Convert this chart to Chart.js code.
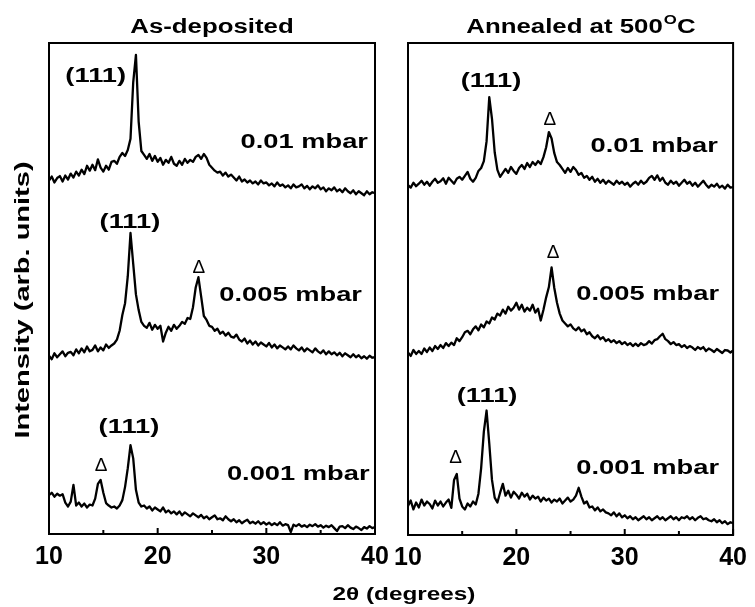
<!DOCTYPE html>
<html>
<head>
<meta charset="utf-8">
<script src="https://cdn.jsdelivr.net/npm/chart.js@4.4.1/dist/chart.umd.min.js"></script>
<style>
    html, body { margin: 0; padding: 0; background: #fff; }
    .wrap { position: relative; width: 755px; height: 607px; }
    .wrap canvas { position: absolute; left: 0; top: 0; }
</style>
</head>
<body>
<div class="wrap">
    <canvas id="leftChart" width="755" height="607"></canvas>
    <canvas id="rightChart" width="755" height="607"></canvas>
</div>
<script>
// 2theta sampling grid (degrees)
const angles = Array.from({ length: 121 }, (_, i) => 10 + i * 0.25);

const majorTicks = [10, 20, 30, 40];
const minorTicks = [15, 25, 35];

// As-deposited (arb. units, 0-100 per panel)
const asDep01 = [
    72.0, 72.8, 71.6, 72.5,  72.9, 71.8, 73.0, 72.2,  73.4, 72.6, 73.8, 73.0,
    74.2, 73.3, 75.0, 74.0,  75.2, 74.1, 76.3, 74.6,  73.8, 75.0, 74.2, 75.8,
    76.0, 75.4, 76.8, 77.6,  77.0, 78.2, 80.5, 92.0,  97.6, 84.0, 78.0, 77.2,
    76.4, 77.4, 76.0, 77.0,  75.8, 76.6, 75.2, 76.2,  75.6, 76.8, 75.4, 75.0,
    76.0, 75.2, 76.4, 75.6,  76.2, 75.8, 76.8, 77.2,  76.4, 77.4, 76.6, 75.2,
    74.6, 74.0, 73.6, 73.8,  73.0, 73.6, 72.8, 73.2,  72.6, 72.0, 72.8, 71.8,
    72.2, 71.6, 72.0, 71.4,  71.8, 71.2, 72.0, 71.4,  71.6, 71.0, 71.4, 70.8,
    71.6, 70.9, 71.2, 70.6,  71.0, 70.4, 71.2, 70.6,  70.8, 71.2, 70.4, 70.9,
    70.2, 70.8, 70.4, 71.0,  70.2, 70.6, 69.8, 70.4,  70.0, 70.6, 69.8, 70.2,
    69.6, 70.4, 69.8, 69.4,  70.0, 69.2, 69.8, 69.4,  69.0, 69.8, 69.2, 69.6,
    69.4
];
const asDep005 = [
    36.3, 35.6, 36.8, 36.0,  36.6, 37.2, 36.2, 36.9,  37.1, 36.4, 37.6, 36.8,
    37.8, 37.0, 38.2, 37.2,  37.5, 38.4, 37.2, 38.0,  37.4, 38.6, 37.9, 38.4,
    38.8, 39.6, 41.4, 44.6,  47.0, 52.5, 61.3, 55.0,  48.8, 45.6, 43.2, 42.4,
    42.0, 43.0, 41.6, 42.6,  41.8, 42.4, 39.2, 41.0,  42.2, 41.4, 42.6, 41.8,
    42.4, 43.2, 42.8, 44.0,  43.8, 46.2, 50.2, 52.3,  48.4, 44.4, 43.6, 42.4,
    42.2, 41.4, 41.8, 40.8,  41.2, 40.4, 41.0, 40.2,  40.0, 40.6, 39.6, 39.2,
    39.8, 38.8, 39.4, 38.6,  39.2, 38.4, 39.0, 38.6,  38.2, 38.9, 38.0, 38.6,
    37.8, 38.4, 38.0, 37.6,  38.2, 37.6, 38.4, 37.8,  37.4, 38.0, 37.2, 37.8,
    37.4, 37.0, 37.8, 37.2,  36.8, 37.4, 36.6, 37.2,  36.6, 37.0, 36.4, 36.9,
    36.2, 36.8, 36.4, 36.0,  36.6, 36.0, 36.4, 35.8,  36.2, 35.7, 36.3, 35.9,
    36.0
];
const asDep001 = [
    7.9, 8.4, 7.6, 8.2,  7.8, 8.1, 6.4, 5.6,  6.6, 10.0, 5.8, 6.4,
    5.6, 6.2, 5.4, 6.0,  5.8, 7.2, 10.2, 11.0,  8.4, 6.3, 5.8, 5.4,
    5.6, 5.2, 5.8, 6.9,  9.6, 13.4, 18.1, 15.4,  9.0, 6.4, 5.6, 5.8,
    5.2, 5.6, 4.8, 5.4,  5.0, 4.6, 5.4, 4.4,  4.8, 4.2, 4.6, 4.0,
    4.6, 3.8, 4.4, 4.0,  3.6, 4.2, 3.8, 3.4,  3.9, 3.2, 3.6, 3.0,
    3.4, 3.8, 3.0, 3.2,  2.8, 3.6, 3.0, 2.6,  3.0, 2.4, 2.8, 2.2,
    2.6, 2.9, 2.2, 2.5,  2.1, 2.6, 2.0, 2.4,  1.9, 2.3, 1.8, 2.2,
    1.8, 2.4, 1.7, 2.0,  1.8, 0.4, 1.9, 1.6,  2.0, 1.5, 1.8, 1.4,
    1.9, 1.6, 2.0, 1.5,  1.8, 1.3, 1.7, 1.4,  1.8, 1.2, 0.6, 1.5,
    1.6, 1.2, 1.8, 1.3,  1.0, 1.5, 1.2, 0.8,  1.4, 1.1, 1.6, 1.2,
    1.4
];

// Annealed at 500 C
const ann01 = [
    71.1, 70.6, 71.6, 70.9,  71.4, 72.0, 71.2, 71.8,  71.0, 71.8, 72.4, 71.6,
    71.9, 72.5, 71.4, 72.6,  72.0, 71.4, 72.4, 72.8,  72.2, 73.0, 73.8, 72.4,
    71.8, 72.6, 74.0, 74.6,  76.0, 80.0, 89.0, 84.6,  77.8, 74.2, 72.8, 73.6,
    74.4, 73.6, 74.8, 74.0,  73.4, 74.6, 75.2, 74.4,  75.6, 74.8, 75.8, 75.2,
    76.0, 75.4, 76.8, 78.8,  81.9, 80.6, 77.6, 75.8,  75.2, 74.4, 73.6, 74.6,
    73.8, 74.8, 74.2, 73.2,  73.6, 72.6, 73.0, 72.2,  72.8, 71.8, 72.4, 71.6,
    72.2, 71.4, 72.0, 71.6,  71.2, 72.0, 71.4, 71.8,  71.2, 71.6, 70.8, 71.4,
    71.8, 71.2, 72.0, 71.4,  71.8, 72.6, 73.0, 72.2,  73.1, 72.0, 72.6, 71.6,
    71.2, 72.0, 71.4, 71.8,  71.0, 71.6, 72.2, 71.4,  71.8, 71.0, 71.6, 70.8,
    71.4, 72.0, 71.2, 70.6,  71.2, 70.8, 71.4, 70.6,  71.0, 70.4, 71.2, 70.6,
    70.7
];
const ann005 = [
    37.1, 36.4, 37.6, 36.8,  37.4, 36.8, 37.9, 37.2,  38.1, 37.4, 38.4, 37.8,
    38.6, 38.0, 39.0, 38.4,  39.1, 38.6, 40.0, 39.4,  40.2, 41.2, 41.5, 40.8,
    41.8, 42.4, 41.6, 42.8,  42.2, 43.4, 43.0, 44.2,  43.8, 45.0, 44.6, 45.8,
    45.0, 46.4, 45.6, 46.2,  47.2, 45.8, 46.8, 45.4,  46.2, 45.6, 46.8, 45.2,
    46.0, 43.6, 45.8, 48.3,  50.4, 54.4, 50.2, 47.2,  45.0, 43.6, 43.0, 42.4,
    42.8, 42.0, 41.6, 42.2,  41.4, 41.8, 40.8, 41.2,  40.4, 40.0, 40.6, 39.8,
    40.2, 39.4, 39.8, 39.2,  39.6, 39.0, 39.4, 38.8,  39.2, 38.6, 39.0, 38.4,
    38.9, 38.4, 39.0, 38.6,  38.8, 39.4, 38.9, 39.6,  39.8, 40.4, 40.9, 39.8,
    39.4, 38.8, 39.2, 38.6,  38.8, 38.2, 38.6, 38.0,  38.4, 38.1, 37.6, 38.2,
    37.8, 38.2, 37.4, 37.9,  37.6, 37.2, 37.8, 37.4,  37.0, 37.6, 37.5, 37.1,
    37.5
];
const ann001 = [
    5.9, 7.0, 5.2, 6.6,  5.6, 7.2, 6.0, 6.8,  6.3, 5.4, 7.0, 6.0,
    6.8, 5.8, 6.6, 7.2,  5.5, 11.2, 12.4, 7.4,  5.8, 5.2, 6.4, 5.8,
    6.8, 6.2, 8.4, 13.6,  21.0, 25.3, 18.6, 11.2,  7.6, 6.6, 8.6, 10.4,
    8.0, 9.0, 7.6, 8.8,  8.2, 7.4, 8.6, 7.8,  8.4, 7.2, 8.0, 7.4,
    7.8, 6.8, 7.6, 7.0,  7.4, 6.6, 7.2, 6.8,  7.4, 6.4, 7.0, 7.6,
    6.8, 7.2, 8.0, 9.6,  7.8, 6.4, 6.8, 5.6,  5.8, 5.0, 5.6, 4.8,
    5.2, 4.6, 4.4, 4.0,  4.6, 3.8, 4.4, 3.6,  4.0, 3.4, 3.8, 3.2,
    3.6, 3.0, 3.4, 3.8,  3.2, 3.6, 3.0, 3.4,  3.8, 3.2, 3.6, 3.0,
    3.4, 3.8, 3.2, 3.6,  3.0, 3.6, 3.4, 3.8,  3.2, 3.6, 3.0, 3.5,
    3.8, 3.2, 3.4, 3.0,  2.8, 3.2, 2.6, 3.0,  2.4, 2.8, 2.2, 2.6,
    2.4
];

// peak labels, anchored in data units (2theta, intensity)
const leftNotes = [
    { text: "(111)", x: 14.3, y: 93.3 },
    { text: "0.01 mbar", x: 39.35, y: 79.7, align: "right" },
    { text: "(111)", x: 17.45, y: 63.5 },
    { text: "\u0394", x: 23.8, y: 54.2, tri: true },
    { text: "0.005 mbar", x: 38.8, y: 48.7, align: "right" },
    { text: "(111)", x: 17.36, y: 21.8 },
    { text: "\u0394", x: 14.8, y: 13.8, tri: true },
    { text: "0.001 mbar", x: 39.5, y: 12.2, align: "right" }
];
const rightNotes = [
    { text: "(111)", x: 17.66, y: 92.3 },
    { text: "\u0394", x: 23.1, y: 84.3, tri: true },
    { text: "0.01 mbar", x: 38.6, y: 79.1, align: "right" },
    { text: "\u0394", x: 23.4, y: 57.3, tri: true },
    { text: "0.005 mbar", x: 38.7, y: 49.0, align: "right" },
    { text: "(111)", x: 17.3, y: 28.3 },
    { text: "\u0394", x: 14.4, y: 15.7, tri: true },
    { text: "0.001 mbar", x: 38.7, y: 13.6, align: "right" }
];

const FONT = '"Liberation Sans", Arial, sans-serif';

// the original lettering is wide, so stretch it horizontally
function wideText(ctx, txt, x, y, size, align, sx, rot, weight) {
    ctx.save();
    ctx.translate(x, y);
    if (rot) ctx.rotate(rot);
    ctx.scale(sx, 1);
    ctx.font = (weight || "bold") + " " + size + "px " + FONT;
    ctx.textAlign = align || "center";
    ctx.textBaseline = "middle";
    ctx.fillStyle = "#000";
    ctx.fillText(txt, 0, 0);
    ctx.restore();
}

function makeFrame(notes, extra) {
    return {
        id: "frame",
        afterDraw(chart) {
            const ctx = chart.ctx;
            const a = chart.chartArea;
            const x = chart.scales.x;
            const y = chart.scales.y;
            ctx.save();
            ctx.strokeStyle = "#000";
            ctx.lineWidth = 2;
            ctx.strokeRect(a.left, a.top, a.right - a.left, a.bottom - a.top);

            ctx.beginPath();
            majorTicks.forEach(v => {
                const px = x.getPixelForValue(v);
                ctx.moveTo(px, a.bottom);
                ctx.lineTo(px, a.bottom - 6);
            });
            minorTicks.forEach(v => {
                const px = x.getPixelForValue(v);
                ctx.moveTo(px, a.bottom);
                ctx.lineTo(px, a.bottom - 4);
            });
            ctx.stroke();

            notes.forEach(n => {
                const px = x.getPixelForValue(n.x);
                const py = y.getPixelForValue(n.y);
                if (n.tri) {
                    wideText(ctx, n.text, px, py, 19, "center", 1.0, 0, "normal");
                } else {
                    wideText(ctx, n.text, px, py, 21, n.align, 1.3);
                }
            });
            if (extra) extra(ctx, a);
            ctx.restore();
        }
    };
}

function lineSet(values) {
    return {
        data: values,
        borderColor: "#000",
        borderWidth: 2.3,
        borderJoinStyle: "round",
        pointRadius: 0,
        tension: 0,
        fill: false
    };
}

function makeOptions(pad) {
    return {
        responsive: false,
        animation: false,
        devicePixelRatio: 1,
        layout: { padding: pad },
        plugins: { legend: { display: false }, tooltip: { enabled: false }, title: { display: false } },
        scales: {
            x: {
                type: "linear",
                min: 10,
                max: 40,
                afterFit: s => { s.height = 30; },
                ticks: {
                    stepSize: 10,
                    color: "#000",
                    padding: 8,
                    font: { family: FONT, size: 25, weight: "bold" }
                },
                grid: { display: false, drawTicks: false },
                border: { display: false }
            },
            y: { display: false, min: 0, max: 100 }
        }
    };
}

new Chart(document.getElementById("leftChart"), {
    type: "line",
    data: { labels: angles, datasets: [lineSet(asDep01), lineSet(asDep005), lineSet(asDep001)] },
    options: makeOptions({ left: 49, right: 380, top: 43, bottom: 43 }),
    plugins: [makeFrame(leftNotes, (ctx, a) => {
        wideText(ctx, "As-deposited", (a.left + a.right) / 2, 27, 20, "center", 1.29);
        wideText(ctx, "2\u03b8 (degrees)", 404, 595, 19, "center", 1.28);
        wideText(ctx, "Intensity (arb. units)", 23, 300, 20, "center", 1.45, -Math.PI / 2);
    })]
});

new Chart(document.getElementById("rightChart"), {
    type: "line",
    data: { labels: angles, datasets: [lineSet(ann01), lineSet(ann005), lineSet(ann001)] },
    options: makeOptions({ left: 408, right: 18, top: 43, bottom: 42 }),
    plugins: [makeFrame(rightNotes, (ctx, a) => {
        // title with superscript degree "O"
        const sx = 1.29;
        ctx.save();
        ctx.font = "bold 20px " + FONT;
        const w1 = ctx.measureText("Annealed at 500").width;
        const w3 = ctx.measureText("C").width;
        ctx.font = "bold 13px " + FONT;
        const w2 = ctx.measureText("O").width + 1;
        ctx.restore();
        const total = (w1 + w2 + w3) * sx;
        const x0 = 581 - total / 2;
        wideText(ctx, "Annealed at 500", x0, 27, 20, "left", sx);
        wideText(ctx, "O", x0 + w1 * sx + 1, 20, 13, "left", sx);
        wideText(ctx, "C", x0 + (w1 + w2) * sx, 27, 20, "left", sx);
    })]
});
</script>
</body>
</html>
